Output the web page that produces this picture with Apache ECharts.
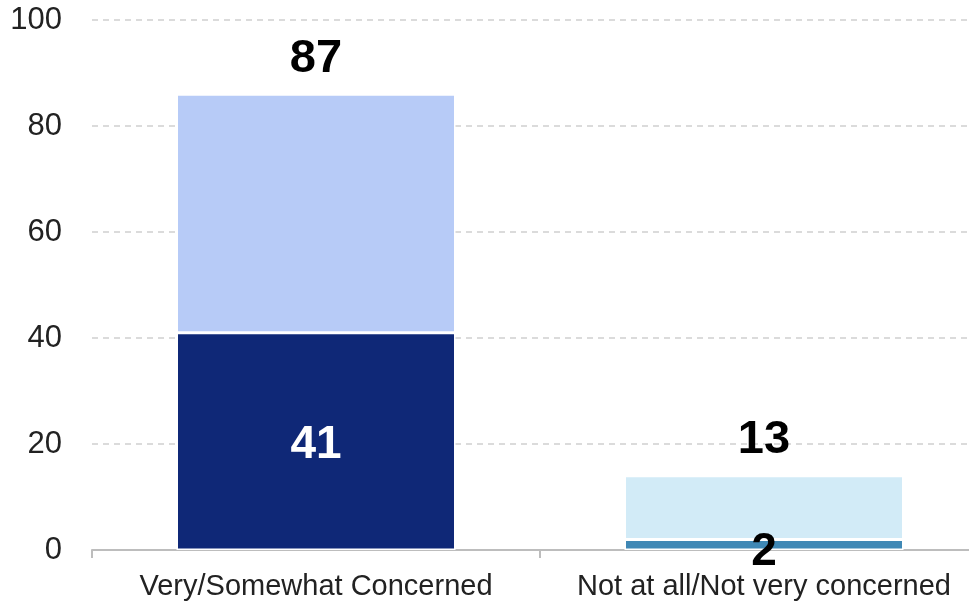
<!DOCTYPE html>
<html>
<head>
<meta charset="utf-8">
<style>html,body{margin:0;padding:0;background:#fff;overflow:hidden;}#c{width:969px;height:601px;}</style>
<script src="https://cdn.jsdelivr.net/npm/echarts@6/dist/echarts.min.js"></script>
</head>
<body>
<div id="c"></div>
<script>
const categories = ['Very/Somewhat Concerned', 'Not at all/Not very concerned'];
const strongValues = [41, 2];
const otherValues = [45, 12];
const totalLabels = [87, 13];
const yTicks = [0, 20, 40, 60, 80, 100];

const chart = echarts.init(document.getElementById('c'));
chart.setOption({
  animation: false,
  grid: { left: 92, width: 896, top: 20, bottom: 51, containLabel: false, outerBoundsMode: 'none' },
  xAxis: {
    type: 'category',
    data: categories,
    axisLine: { lineStyle: { color: '#bdbdbd', width: 2 } },
    axisTick: { show: true, length: 8, lineStyle: { color: '#bdbdbd', width: 2 } },
    axisLabel: { interval: 0, fontFamily: 'Liberation Sans', fontSize: 29, color: '#222', margin: 22 }
  },
  yAxis: {
    type: 'value', min: yTicks[0], max: yTicks[yTicks.length - 1], interval: 20,
    axisLine: { show: false }, axisTick: { show: false },
    axisLabel: { fontFamily: 'Liberation Sans', fontSize: 31, color: '#222', margin: 30 },
    splitLine: { lineStyle: { color: '#cfcfcf', type: [6, 5], width: 1.5 } }
  },
  series: [
    {
      type: 'bar', stack: 's', barWidth: 279,
      data: strongValues.map((v, i) => ({
        value: v,
        itemStyle: { color: i === 0 ? '#0f2877' : '#3f88b5' },
        label: {
          color: i === 0 ? '#ffffff' : '#000000',
          position: 'inside',
          offset: i === 0 ? [0, 4] : [0, 8]
        }
      })),
      itemStyle: { borderColor: '#ffffff', borderWidth: 1.5 },
      label: { show: true, fontFamily: 'Liberation Sans', fontWeight: 'bold', fontSize: 46 }
    },
    {
      type: 'bar', stack: 's', barWidth: 279,
      data: otherValues.map((v, i) => ({
        value: v,
        itemStyle: { color: i === 0 ? '#b7cbf7' : '#d2ebf7' }
      })),
      itemStyle: { borderColor: '#ffffff', borderWidth: 1.5 },
      label: {
        show: true, position: 'top', distance: 12,
        formatter: p => String(totalLabels[p.dataIndex]),
        fontFamily: 'Liberation Sans', fontWeight: 'bold', fontSize: 47, color: '#000'
      }
    }
  ]
});
</script>
</body>
</html>
